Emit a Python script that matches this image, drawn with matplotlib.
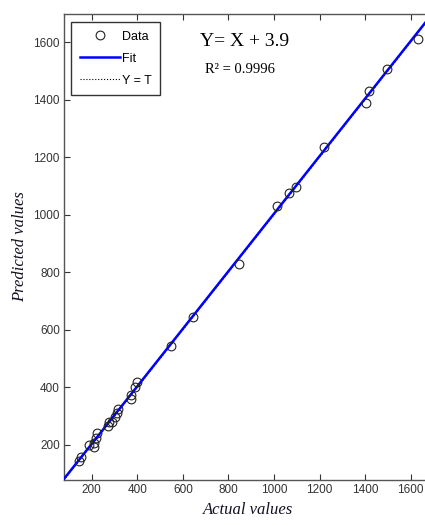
import matplotlib
matplotlib.use("Agg")
import matplotlib.pyplot as plt
import numpy as np

actual = [1632, 1494, 1417, 1406, 1219, 1095, 1066, 1011, 845, 644, 548,
          400, 390, 371, 371, 315, 310, 301, 290, 276, 273, 225, 218, 210,
          188, 210, 152, 144]
predicted = [1611, 1506, 1431, 1390, 1237, 1098, 1075, 1032, 828, 644, 544,
             417, 403, 374, 360, 325, 311, 298, 281, 278, 264, 241, 223, 206,
             200, 192, 159, 145]
fit_slope = 1.0
fit_intercept = 3.9
x_ticks = [200, 400, 600, 800, 1000, 1200, 1400, 1600]
y_ticks = [200, 400, 600, 800, 1000, 1200, 1400, 1600]
lim = (78, 1698)

fig = plt.figure(figsize=(4.25, 5.29), dpi=100)
ax = fig.add_axes([64/425, 49/529, 369/425, 466/529])

xx = np.array(lim)
ax.plot(xx, xx, linestyle=':', color='black', linewidth=0.8, label='Y = T', zorder=2)
ax.plot(xx, fit_slope*xx + fit_intercept, color='#0000ff', linewidth=1.8, label='Fit', zorder=3)
ax.plot(actual, predicted, linestyle='none', marker='o', markersize=6.3,
        markerfacecolor='none', markeredgecolor='#222222', markeredgewidth=0.8,
        label='Data', zorder=4)

ax.set_xlim(lim)
ax.set_ylim(lim)
ax.set_xticks(x_ticks)
ax.set_yticks(y_ticks)
ax.tick_params(direction='in', length=4, width=0.8, top=True, right=True,
               labelsize=8.5, colors='#333333', pad=3)
for lab in ax.get_xticklabels() + ax.get_yticklabels():
    lab.set_family('Liberation Sans')
    lab.set_color('#333333')
for s in ax.spines.values():
    s.set_color('#555555')
    s.set_linewidth(1.0)

ax.set_xlabel('Actual values', fontfamily='Liberation Serif', fontstyle='italic',
              fontsize=12, color='#111122', labelpad=4)
ax.set_ylabel('Predicted values', fontfamily='Liberation Serif', fontstyle='italic',
              fontsize=12, color='#111122', labelpad=4)

h, l = ax.get_legend_handles_labels()
order = [2, 1, 0]
leg = ax.legend([h[i] for i in order], [l[i] for i in order], loc='upper left',
                bbox_to_anchor=(0.02, 0.982), fancybox=False, framealpha=1,
                edgecolor='#333333', prop={'family': 'Liberation Sans', 'size': 9},
                handlelength=3.2, handletextpad=0.2, borderpad=0.65, labelspacing=0.8,
                borderaxespad=0)
leg.get_frame().set_linewidth(1.0)

fig.text(200/425, 1 - 42/529, 'Y= X + 3.9', fontfamily='Liberation Serif',
         fontsize=14, va='center', ha='left', color='black')
fig.text(205/425, 1 - 70/529, 'R² = 0.9996', fontfamily='Liberation Serif',
         fontsize=10.5, va='center', ha='left', color='black')

fig.savefig('out.png', dpi=100)
